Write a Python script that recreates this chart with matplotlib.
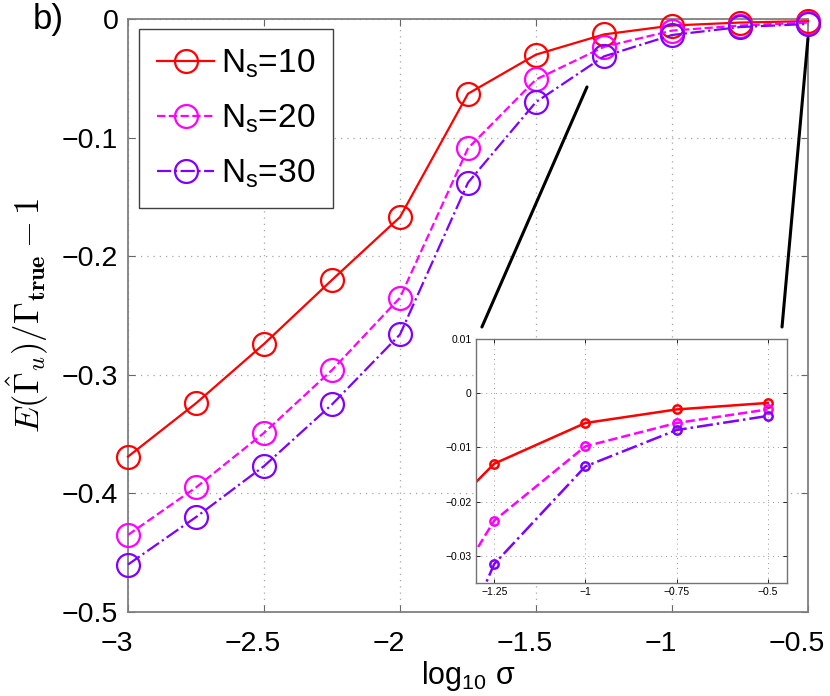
import numpy as np
import matplotlib.pyplot as plt
import matplotlib.transforms as mtransforms
from matplotlib.patches import ConnectionPatch

'''
Data:
'''
log_sigma = [-3, -2.75, -2.5, -2.25, -2, -1.75, -1.5, -1.25, -1, -0.75, -0.5]
bias_ns10 = [-0.369, -0.324, -0.274, -0.220, -0.167, -0.063, -0.030, -0.0130, -0.0055, -0.0030, -0.0018]
bias_ns20 = [-0.435, -0.395, -0.349, -0.296, -0.235, -0.109, -0.051, -0.0235, -0.0098, -0.0055, -0.0030]
bias_ns30 = [-0.460, -0.420, -0.377, -0.325, -0.266, -0.138, -0.070, -0.0315, -0.0135, -0.0068, -0.0042]
labels = [r'N$_\mathrm{s}$=10', r'N$_\mathrm{s}$=20', r'N$_\mathrm{s}$=30']

main_xticks = [-3, -2.5, -2, -1.5, -1, -0.5]
main_yticks = [-0.5, -0.4, -0.3, -0.2, -0.1, 0]
inset_xticks = [-1.25, -1, -0.75, -0.5]
inset_yticks = [-0.03, -0.02, -0.01, 0, 0.01]

colors = ['#ff0000', '#ff00ff', '#7f00ff']
styles = ['-', '--', '-.']

'''
Plot:
'''
plt.rcParams['font.family'] = ['Liberation Sans', 'DejaVu Sans']
plt.rcParams['mathtext.fontset'] = 'custom'
plt.rcParams['mathtext.rm'] = 'Liberation Sans'
plt.rcParams['mathtext.it'] = 'Liberation Sans:italic'
plt.rcParams['mathtext.bf'] = 'Liberation Sans:bold'

fig = plt.figure(figsize=(8.3, 6.96), dpi=100)
ax = fig.add_axes([0.1542, 0.1207, 0.8193, 0.852])

series = [bias_ns10, bias_ns20, bias_ns30]
for ys, c, ls, lab in zip(series, colors, styles, labels):
    ax.plot(log_sigma, ys, color=c, linestyle=ls, lw=1.6, marker='o',
            markersize=16.5, markerfacecolor='none', markeredgewidth=1.6,
            label=lab, clip_on=False, zorder=3)

ax.set_xlim(-3, -0.5)
ax.set_ylim(-0.5, 0)
ax.set_xticks(main_xticks)
ax.set_xticklabels(['\u22123', '\u22122.5', '\u22122', '\u22121.5', '\u22121', '\u22120.5'])
ax.set_yticks(main_yticks)
ax.set_yticklabels(['\u22120.5', '\u22120.4', '\u22120.3', '\u22120.2', '\u22120.1', '0'])
ax.tick_params(direction='in', length=5, width=0.8, color='0.4', labelsize=20.5,
               top=True, right=True)
ax.tick_params(axis='x', pad=14)
ax.tick_params(axis='y', pad=7)
# matlab-like left shift of the x tick labels
shift = mtransforms.ScaledTranslation(-11 / 100, 0, fig.dpi_scale_trans)
for lbl in ax.get_xticklabels():
    lbl.set_transform(lbl.get_transform() + shift)

ax.grid(True, linestyle=(0, (1, 4)), color='0.65', lw=0.9)
for s in ax.spines.values():
    s.set_color('0.5')
    s.set_linewidth(1.3)

ax.set_xlabel(r'log$_{10}$ σ', fontsize=22, labelpad=1)
ax.set_ylabel(r'$E(\hat{\Gamma}_u)/\Gamma_{\mathbf{true}}-1$', fontsize=25, labelpad=8)
ax.yaxis.label.set_math_fontfamily('cm')

leg = ax.legend(loc='upper left', bbox_to_anchor=(0.016, 0.983), borderaxespad=0,
                fontsize=24, handlelength=1.7, handletextpad=0.2,
                labelspacing=0.68, borderpad=0.55, fancybox=False, framealpha=1)
leg.get_frame().set_edgecolor('0.25')
leg.get_frame().set_linewidth(1.0)

fig.text(0.04, 0.995, 'b)', fontsize=25, ha='left', va='top')

# inset
axi = fig.add_axes([0.5735, 0.1624, 0.3747, 0.3506])
for ys, c, ls in zip(series, colors, styles):
    axi.plot(log_sigma, ys, color=c, linestyle=ls, lw=1.8, marker='o',
             markersize=6, markerfacecolor='none', markeredgewidth=1.8)
axi.set_xlim(-1.30, -0.447)
axi.set_ylim(-0.035, 0.01)
axi.set_xticks(inset_xticks)
axi.set_xticklabels(['\u22121.25', '\u22121', '\u22120.75', '\u22120.5'])
axi.set_yticks(inset_yticks)
axi.set_yticklabels(['\u22120.03', '\u22120.02', '\u22120.01', '0', '0.01'])
axi.tick_params(direction='in', length=3, width=0.6, labelsize=7.5, top=True, right=True, pad=3)
axi.grid(True, linestyle=(0, (1, 4)), color='0.6', lw=0.7)
for s in axi.spines.values():
    s.set_color('0.45')
    s.set_linewidth(1.0)

for xa, ya, xb in [(-1.3125, -0.0573, 0.019), (-0.5, -0.016, 0.984)]:
    con = ConnectionPatch(xyA=(xa, ya), coordsA='data', axesA=ax,
                          xyB=(xb, 1.049), coordsB='axes fraction', axesB=axi,
                          color='black', lw=2.2)
    fig.add_artist(con)

plt.savefig('out.png', dpi=100)
